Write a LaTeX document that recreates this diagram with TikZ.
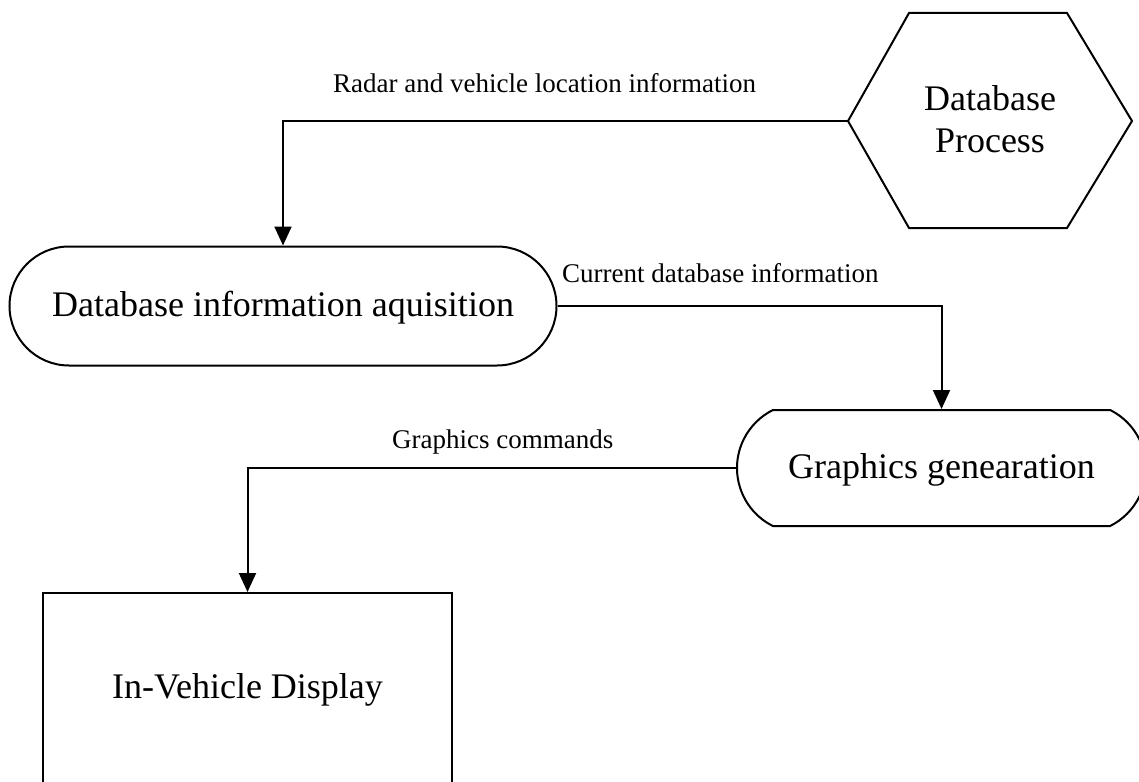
\documentclass[tikz,border=0pt]{standalone}
\usepackage{fontspec}
\setmainfont{Liberation Serif}
\usetikzlibrary{shapes.misc,arrows.meta}
\begin{document}
\begin{tikzpicture}[x=1pt,y=-1pt,
  outline/.style={draw=black,line width=2pt,fill=white,inner sep=0pt},
  bigtext/.style={font=\fontsize{36}{42}\selectfont},
  smalltext/.style={font=\fontsize{27}{32}\selectfont,inner sep=0pt,anchor=base west},
  conn/.style={draw=black,line width=2pt,-{Triangle[length=19pt,width=17pt]}}]
\useasboundingbox (0,0) rectangle (1139,781);
\clip (0,0) rectangle (1139,781);
% Database Process (hexagon)
\draw[line width=2pt,line join=miter] (848,121) -- (909,13) -- (1067,13) -- (1132,121) -- (1067,228) -- (909,228) -- cycle;
\coordinate (dbpW) at (848,121);
\node[bigtext,align=center,inner sep=0pt] (dbp) at (990,119) {Database\\Process};
% Database information aquisition
\node[outline,bigtext,rounded rectangle,rounded rectangle arc length=180,
      minimum width=547pt,minimum height=119pt,text height=24pt,text depth=4pt] (acq) at (283,306) {Database information aquisition};
% Graphics genearation
\node[outline,bigtext,rounded rectangle,rounded rectangle arc length=127,
      minimum width=409pt,minimum height=116pt,text height=24pt,text depth=4pt] (gfx) at (941.5,468) {Graphics genearation};
% In-Vehicle Display
\node[outline,bigtext,rectangle,minimum width=409pt,minimum height=194pt,text height=24pt,text depth=8pt] (disp) at (247.5,690) {In-Vehicle Display};
% connectors
\draw[conn] (dbpW) -| (acq.north);
\draw[conn] (acq.east) -| (gfx.north);
\draw[conn] (gfx.west) -| (disp.north);
% labels
\node[smalltext] (l1) at (333,93) {Radar and vehicle location information};
\node[smalltext] (l2) at (562,282) {Current database information};
\node[smalltext] (l3) at (392,448) {Graphics commands};
\end{tikzpicture}
\end{document}
